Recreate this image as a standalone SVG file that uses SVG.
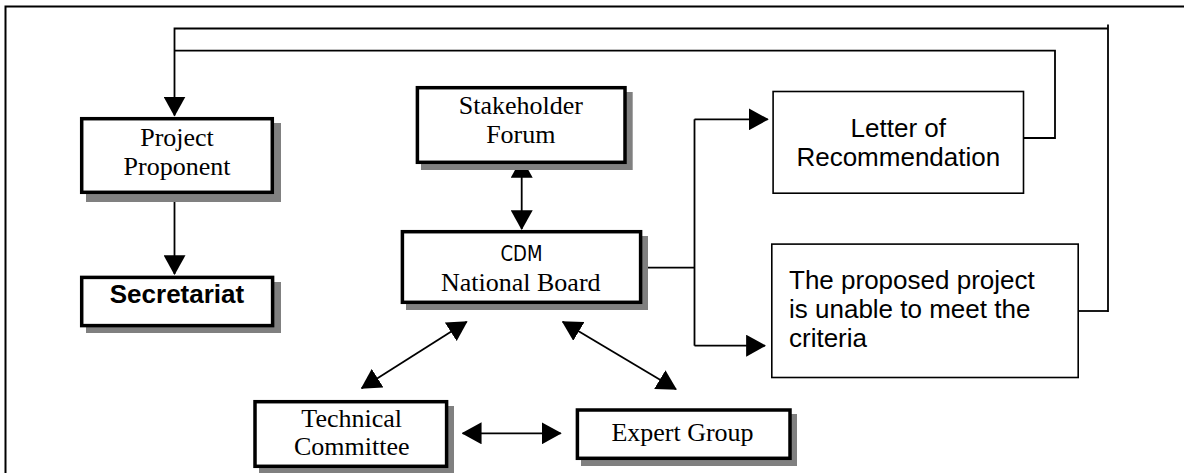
<svg xmlns="http://www.w3.org/2000/svg" width="1184" height="473" viewBox="0 0 1184 473">
<style>
.sh{fill:#808080}
.bx{fill:#fff;stroke:#000;stroke-width:3.5}
.tb{fill:#fff;stroke:#000;stroke-width:1.6}
.tm{font-family:"Liberation Serif","Times New Roman",serif;font-size:26px;text-anchor:middle;fill:#000}
.ar{font-family:"Liberation Sans",Arial,sans-serif;font-size:26px;fill:#000}
.c{fill:none;stroke:#000;stroke-width:1.8}
</style>
<defs>
<marker id="ah" markerUnits="userSpaceOnUse" markerWidth="20" markerHeight="22" viewBox="0 0 19 21" refX="18" refY="10.5" orient="auto-start-reverse">
<path d="M0,0 L19,10.5 L0,21 z" fill="#000"/>
</marker>
</defs>
<rect width="1184" height="473" fill="#fff"/>
<g id="frame">
<path d="M5.5,473 V6.5 H1184" fill="none" stroke="#000" stroke-width="2"/>
</g>
<g id="connectors">
<path class="c" d="M1108,24.5 V312"/>
<path class="c" d="M1108,28.5 H174.5 V115.5" marker-end="url(#ah)"/>
<path class="c" d="M1079,311 H1108"/>
<path class="c" d="M174.5,50.7 H1055 V138 H1024"/>
<path class="c" d="M174.5,194 V274" marker-end="url(#ah)"/>
<path class="c" d="M521.7,159 V229" marker-start="url(#ah)" marker-end="url(#ah)"/>
<path class="c" d="M642,267.7 H694.5"/>
<path class="c" d="M694.5,119.3 V345.7"/>
<path class="c" d="M694.5,119.3 H767.7" marker-end="url(#ah)"/>
<path class="c" d="M694.5,345.7 H765" marker-end="url(#ah)"/>
<path class="c" d="M466.7,321.7 L361.7,388.3" marker-start="url(#ah)" marker-end="url(#ah)"/>
<path class="c" d="M562.7,321.7 L676,389.3" marker-start="url(#ah)" marker-end="url(#ah)"/>
<path class="c" d="M462.7,433.3 H560.7" marker-start="url(#ah)" marker-end="url(#ah)"/>
</g>
<g id="project-proponent">
<rect class="sh" x="86" y="123" width="195" height="79"/>
<rect class="bx" x="81.7" y="118.7" width="190.6" height="73.6"/>
<text class="tm" x="177" y="146">Project</text>
<text class="tm" x="177" y="175">Proponent</text>
</g>
<g id="secretariat">
<rect class="sh" x="86" y="282" width="195" height="51"/>
<rect class="bx" x="81.7" y="277.4" width="190.9" height="48.2"/>
<text class="ar" x="177" y="302.7" text-anchor="middle" font-weight="bold" font-size="25.5">Secretariat</text>
</g>
<g id="stakeholder-forum">
<rect class="sh" x="421" y="92" width="211.7" height="78"/>
<rect class="bx" x="417.4" y="87.7" width="207.6" height="74.6"/>
<text class="tm" x="520.8" y="114.3">Stakeholder</text>
<text class="tm" x="520.8" y="143.3">Forum</text>
</g>
<g id="cdm-national-board">
<rect class="sh" x="406" y="236" width="242" height="74"/>
<rect class="bx" x="402.4" y="231.7" width="238.2" height="70.6"/>
<text x="521.5" y="260.7" text-anchor="middle" font-family="'DejaVu Sans Condensed','DejaVu Sans',sans-serif" font-stretch="condensed" font-size="21" textLength="42" lengthAdjust="spacingAndGlyphs">CDM</text>
<text class="tm" x="520.8" y="291">National Board</text>
</g>
<g id="letter-of-recommendation">
<rect class="tb" x="773.1" y="91.5" width="250.4" height="101.7"/>
<text class="ar" x="898.3" y="136.7" text-anchor="middle">Letter of</text>
<text class="ar" x="898.3" y="165.7" text-anchor="middle">Recommendation</text>
</g>
<g id="unable-to-meet">
<rect class="tb" x="771.8" y="244.1" width="306.4" height="133.4"/>
<text class="ar" x="789" y="289">The proposed project</text>
<text class="ar" x="789" y="318.3">is unable to meet the</text>
<text class="ar" x="789" y="347.3">criteria</text>
</g>
<g id="technical-committee">
<rect class="sh" x="259" y="406" width="195" height="68"/>
<rect class="bx" x="255" y="401.7" width="191.6" height="64.6"/>
<text class="tm" x="351.7" y="427.3">Technical</text>
<text class="tm" x="351.7" y="455">Committee</text>
</g>
<g id="expert-group">
<rect class="sh" x="581" y="414" width="216" height="52"/>
<rect class="bx" x="577.4" y="410" width="212.6" height="48.3"/>
<text class="tm" x="682.5" y="440.7">Expert Group</text>
</g>
</svg>
